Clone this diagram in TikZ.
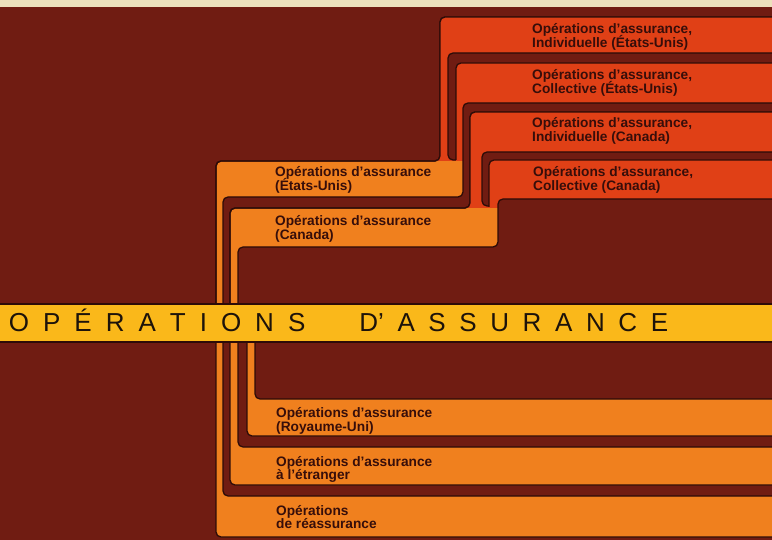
\documentclass[tikz,border=0pt]{standalone}
\usepackage{fontspec}
\setmainfont{Liberation Sans}
\definecolor{bg}{RGB}{112,28,18}
\definecolor{orng}{RGB}{240,128,30}
\definecolor{redc}{RGB}{224,64,22}
\definecolor{yel}{RGB}{250,184,26}
\definecolor{cream}{RGB}{236,224,188}
\definecolor{outl}{RGB}{45,12,8}
\definecolor{txt}{RGB}{55,14,10}
\newcommand\twol[2]{\begin{tabular}[t]{@{}l@{}}\smash{#1}\\\smash{#2}\end{tabular}}
\newcommand\tk{\hspace{14pt}}
\newcommand\tl{\hspace{13.6pt}}
\begin{document}
\begin{tikzpicture}[x=1pt,y=-1pt,
  shp/.style={draw=outl,line width=1.3pt,rounded corners=5pt,line join=round},
  olin/.style={draw=outl,line width=1.3pt,rounded corners=5pt},
  lab/.style={inner sep=0pt,anchor=base west,text=txt,font=\fontsize{13.7}{13.7}\selectfont\bfseries}]
\useasboundingbox (0,0) rectangle (772,540);
\fill[bg] (0,0) rectangle (772,540);
\fill[cream] (0,0) rectangle (772,7);
% ---------- upper half ----------
% S1: Etats-Unis band + Individuelle (Etats-Unis)
\path[shp,fill=orng] (216,335) -- (216,161) -- (440,161) -- (440,17) -- (790,17) -- (790,335) -- cycle;
\begin{scope}
  \clip[rounded corners=5pt] (216,335) -- (216,161) -- (440,161) -- (440,17) -- (790,17) -- (790,335) -- cycle;
  \fill[redc] (430,0) rectangle (790,161);
\end{scope}
\path[olin] (216,335) -- (216,161) -- (440,161) -- (440,17) -- (790,17);
% S2: gap
\path[shp,fill=bg] (448,160) -- (448,53) -- (790,53) -- (790,160) -- cycle;
% S3: Collective (Etats-Unis)
\fill[redc,rounded corners=5pt] (456,161) -- (456,63) -- (790,63) -- (790,161) -- cycle;
\fill[redc] (456,150) rectangle (466,161);
\path[olin] (456,160) -- (456,63) -- (790,63);
% S4: gap
\path[shp,fill=bg] (223,335) -- (223,197) -- (463,197) -- (463,103) -- (790,103) -- (790,335) -- cycle;
% S5: Canada band + Individuelle (Canada)
\path[shp,fill=orng] (230,335) -- (230,208) -- (470,208) -- (470,112) -- (790,112) -- (790,335) -- cycle;
\begin{scope}
  \clip[rounded corners=5pt] (230,335) -- (230,208) -- (470,208) -- (470,112) -- (790,112) -- (790,335) -- cycle;
  \fill[redc] (460,0) rectangle (790,208);
\end{scope}
\path[olin] (230,335) -- (230,208) -- (470,208) -- (470,112) -- (790,112);
% S6: gap
\path[shp,fill=bg] (482,206) -- (482,152) -- (790,152) -- (790,206) -- cycle;
% S7: Collective (Canada)
\fill[redc,rounded corners=5pt] (489,208) -- (489,160) -- (790,160) -- (790,208) -- cycle;
\fill[redc] (489,196) rectangle (499,208);
\path[olin] (489,207) -- (489,160) -- (790,160);
% S8: maroon block
\path[shp,fill=bg] (238,335) -- (238,247) -- (498,247) -- (498,199) -- (790,199) -- (790,335) -- cycle;
% ---------- lower half ----------
\path[shp,fill=orng] (216,310) -- (216,537) -- (790,537) -- (790,310) -- cycle;
\path[shp,fill=bg]   (223,310) -- (223,496) -- (790,496) -- (790,310) -- cycle;
\path[shp,fill=orng] (230,310) -- (230,485) -- (790,485) -- (790,310) -- cycle;
\path[shp,fill=bg]   (238,310) -- (238,447) -- (790,447) -- (790,310) -- cycle;
\path[shp,fill=orng] (247,310) -- (247,436) -- (790,436) -- (790,310) -- cycle;
\path[shp,fill=bg]   (255,310) -- (255,399) -- (790,399) -- (790,310) -- cycle;
% ---------- main band ----------
\fill[yel] (-5,304) rectangle (790,342);
\draw[outl,line width=1.3pt] (-5,304) -- (790,304) (-5,342) -- (790,342);
\node[inner sep=0pt,anchor=base west,text=black!85!brown,font=\fontsize{26}{26}\selectfont] (title) at (8.7,332)
  {O\tk P\tk É\tk R\tk A\tk T\tk I\tk O\tk N\tk S\hspace{54pt}D’\tl A\tl S\tl S\tl U\tl R\tl A\tl N\tl C\tl E};
% ---------- labels ----------
\node[lab] (iu) at (532,34)  {\twol{Opérations d’assurance,}{Individuelle (États-Unis)}};
\node[lab] (cu) at (532,80)  {\twol{Opérations d’assurance,}{Collective (États-Unis)}};
\node[lab] (ic) at (532,128) {\twol{Opérations d’assurance,}{Individuelle (Canada)}};
\node[lab] (cc) at (533,177) {\twol{Opérations d’assurance,}{Collective (Canada)}};
\node[lab] (us) at (275,177) {\twol{Opérations d’assurance}{(États-Unis)}};
\node[lab] (ca) at (275,226) {\twol{Opérations d’assurance}{(Canada)}};
\node[lab] (uk) at (276,417.5) {\twol{Opérations d’assurance}{(Royaume-Uni)}};
\node[lab] (et) at (276,466) {\twol{Opérations d’assurance}{à l’étranger}};
\node[lab] (re) at (276,515) {\twol{Opérations}{de réassurance}};
\end{tikzpicture}
\end{document}
